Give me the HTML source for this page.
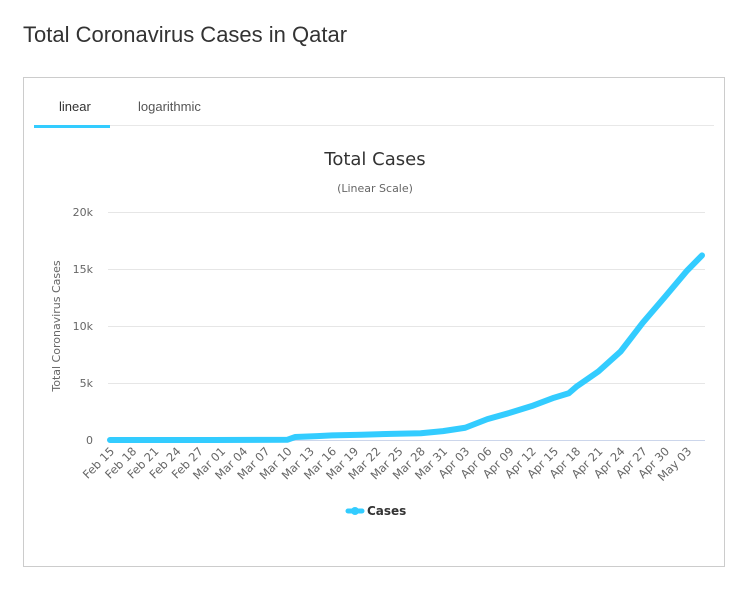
<!DOCTYPE html>
<html><head><meta charset="utf-8"><style>
body{margin:0;background:#fff;font-family:"Liberation Sans",sans-serif;}
</style></head><body>
<svg width="750" height="589" xmlns="http://www.w3.org/2000/svg" font-family="Liberation Sans, DejaVu Sans, sans-serif">
<text x="23" y="42" font-size="22" fill="#333">Total Coronavirus Cases in Qatar</text>
<rect x="23.5" y="77.5" width="701" height="489" fill="#fff" stroke="#ccc"/>
<text x="59" y="111" font-size="13" fill="#333">linear</text>
<text x="138" y="111" font-size="13" fill="#555">logarithmic</text>
<line x1="34" y1="125.5" x2="714" y2="125.5" stroke="#e8e8e8"/>
<rect x="34" y="125" width="76" height="3" fill="#33ccff"/>
<text x="375" y="165" font-size="18" text-anchor="middle" fill="#333" font-family="DejaVu Sans, sans-serif">Total Cases</text>
<text x="375" y="192" font-size="11" text-anchor="middle" fill="#666" font-family="DejaVu Sans, sans-serif">(Linear Scale)</text>
<g stroke="#e6e6e6">
<line x1="108" y1="212.5" x2="705" y2="212.5"/>
<line x1="108" y1="269.5" x2="705" y2="269.5"/>
<line x1="108" y1="326.5" x2="705" y2="326.5"/>
<line x1="108" y1="383.5" x2="705" y2="383.5"/>
</g>
<line x1="108" y1="440.5" x2="705" y2="440.5" stroke="#ccd6eb"/>
<g font-size="11" fill="#666" text-anchor="end" font-family="DejaVu Sans, sans-serif">
<text x="93" y="216">20k</text><text x="93" y="273">15k</text><text x="93" y="330">10k</text><text x="93" y="387">5k</text><text x="93" y="444">0</text>
</g>
<text transform="translate(60,326) rotate(-90)" font-size="11" text-anchor="middle" fill="#666" font-family="DejaVu Sans, sans-serif">Total Coronavirus Cases</text>
<g font-size="11.5" fill="#666" text-anchor="end" font-family="DejaVu Sans, sans-serif" id="xl"></g>
<polyline id="ln" fill="none" stroke="#33ccff" stroke-width="6" stroke-linejoin="round" stroke-linecap="round"/>
<line x1="348" y1="511" x2="362" y2="511" stroke="#33ccff" stroke-width="5" stroke-linecap="round"/>
<circle cx="355" cy="511" r="4" fill="#33ccff"/>
<text x="367" y="515" font-size="12" font-weight="bold" fill="#333" font-family="DejaVu Sans, sans-serif">Cases</text>
</svg>
<script>
var labels=["Feb 15","Feb 18","Feb 21","Feb 24","Feb 27","Mar 01","Mar 04","Mar 07","Mar 10","Mar 13","Mar 16","Mar 19","Mar 22","Mar 25","Mar 28","Mar 31","Apr 03","Apr 06","Apr 09","Apr 12","Apr 15","Apr 18","Apr 21","Apr 24","Apr 27","Apr 30","May 03"];
var g=document.getElementById('xl'),s='';
labels.forEach(function(l,i){var x=115+i*3*7.4;s+='<text transform="translate('+x+',452) rotate(-45)">'+l+'</text>';});
g.innerHTML=s;
var pts=[[0,0],[14,1],[24,24],[25,262],[28,337],[30,401],[34,460],[38,537],[42,590],[45,781],[48,1075],[51,1832],[54,2376],[57,2979],[60,3711],[62,4103],[63,4663],[66,6015],[69,7764],[72,10287],[75,12564],[78,14872],[80,16191]];
var p=pts.map(function(a){return (110+a[0]*7.4)+','+(440-a[1]*0.0114);}).join(' ');
document.getElementById('ln').setAttribute('points',p);
</script>
</body></html>
